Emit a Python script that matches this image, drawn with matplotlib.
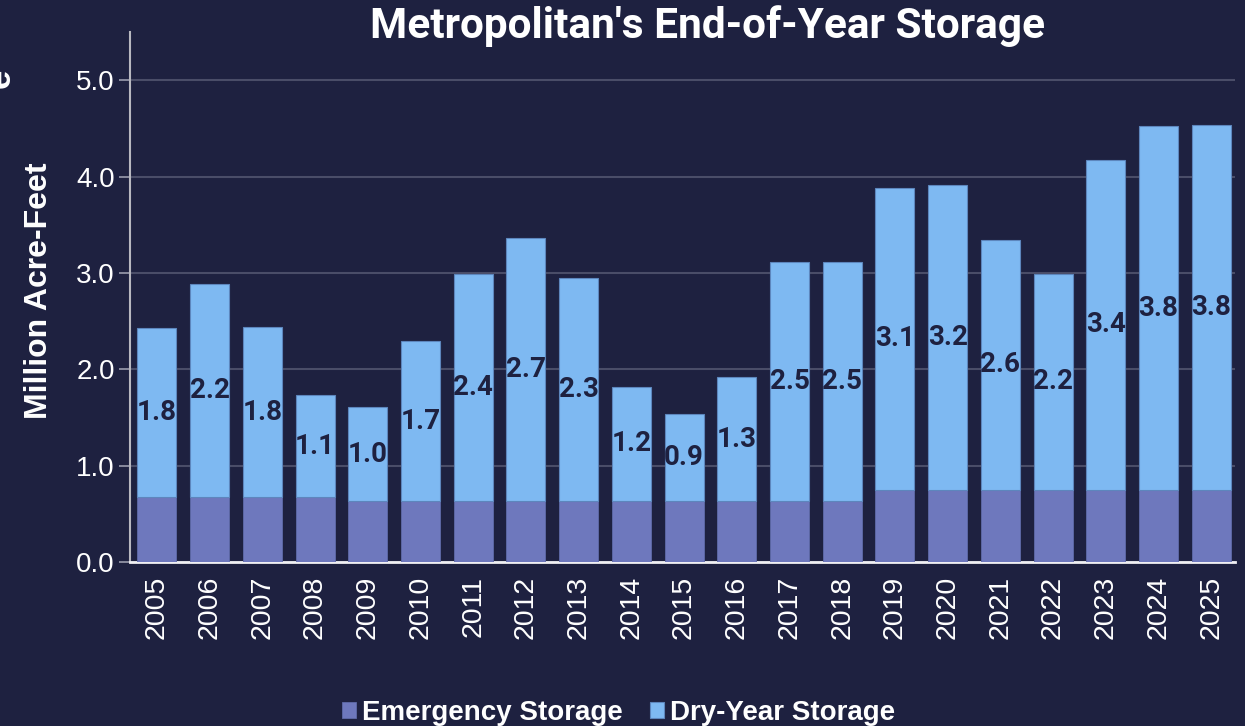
import matplotlib
matplotlib.use('Agg')
import matplotlib.pyplot as plt
import numpy as np

years = [str(y) for y in range(2005, 2026)]
emergency = [0.67, 0.67, 0.67, 0.67, 0.63, 0.63, 0.63, 0.63, 0.63, 0.63, 0.63,
             0.63, 0.63, 0.63, 0.75, 0.75, 0.75, 0.75, 0.75, 0.75, 0.75]
dry_year = [1.76, 2.21, 1.77, 1.06, 0.98, 1.66, 2.36, 2.73, 2.32, 1.19, 0.91,
            1.29, 2.48, 2.48, 3.13, 3.16, 2.59, 2.24, 3.42, 3.77, 3.79]

bg = '#1e2140'
c_emerg = '#6e78bd'
c_dry = '#7eb9f2'

fig = plt.figure(figsize=(12.45, 7.26), dpi=100, facecolor=bg)
ax = fig.add_axes([130/1245, 164/726, 1105/1245, 530/726])
ax.set_facecolor(bg)

x = np.arange(len(years))
b1 = ax.bar(x, emergency, width=0.74, color=c_emerg, edgecolor='#5f6aa8', linewidth=0.6,
            label='Emergency Storage', zorder=3)
b2 = ax.bar(x, dry_year, width=0.74, bottom=emergency, color=c_dry, edgecolor='#5d86bd',
            linewidth=0.8, label='Dry-Year Storage', zorder=3)
ax.bar_label(b2, labels=[f'{v:.1f}' for v in dry_year], label_type='center',
             color=bg, fontsize=20, fontweight='bold', family='Roboto', zorder=4)

ax.set_xlim(-0.51, 20.45)
ax.set_ylim(0, 5.5)
ax.set_yticks([0, 1, 2, 3, 4, 5])
ax.set_yticklabels([f'{v:.1f}' for v in [0, 1, 2, 3, 4, 5]])
ax.set_xticks(x)
ax.set_xticklabels(years, rotation=90)
ax.tick_params(axis='y', colors='#9a9cae', length=8, width=1.2, pad=3, labelsize=20,
               labelcolor='white')
ax.tick_params(axis='x', length=0, pad=10, labelsize=20.5, labelcolor='white')
for lab in ax.get_xticklabels() + ax.get_yticklabels():
    lab.set_family('Liberation Sans')

ax.grid(axis='y', color='#4a4d68', linewidth=1.5, zorder=0)
ax.spines['top'].set_visible(False)
ax.spines['right'].set_visible(False)
ax.spines['left'].set_color('#b8b8c0')
ax.spines['left'].set_linewidth(1.5)
ax.spines['bottom'].set_color('#f0f0f4')
ax.spines['bottom'].set_linewidth(2)

ax.set_ylabel('Million Acre-Feet', color='white', fontsize=23, fontweight='bold',
              family='Liberation Sans')
ax.yaxis.set_label_coords(-0.069, 0.511)

fig.text(707/1245, 1 - 26/726, "Metropolitan's End-of-Year Storage", ha='center', va='center',
         color='white', fontsize=30.5, fontweight='bold', family='Roboto')

# clipped glyph at the left edge
fig.text(0.0, 1 - 78/726, 'e', rotation=90, ha='center', va='center', color='white',
         fontsize=25, fontweight='bold', family='Liberation Sans')

leg = fig.legend(handles=[b1, b2], loc='center', bbox_to_anchor=(0.497, 13/726), ncol=2,
                 frameon=False, handlelength=0.5, handleheight=0.5, handletextpad=0.2,
                 columnspacing=1.0, prop={'family': 'Liberation Sans', 'weight': 'bold', 'size': 20})
for t in leg.get_texts():
    t.set_color('white')

fig.savefig('out.png', dpi=100, facecolor=bg)
